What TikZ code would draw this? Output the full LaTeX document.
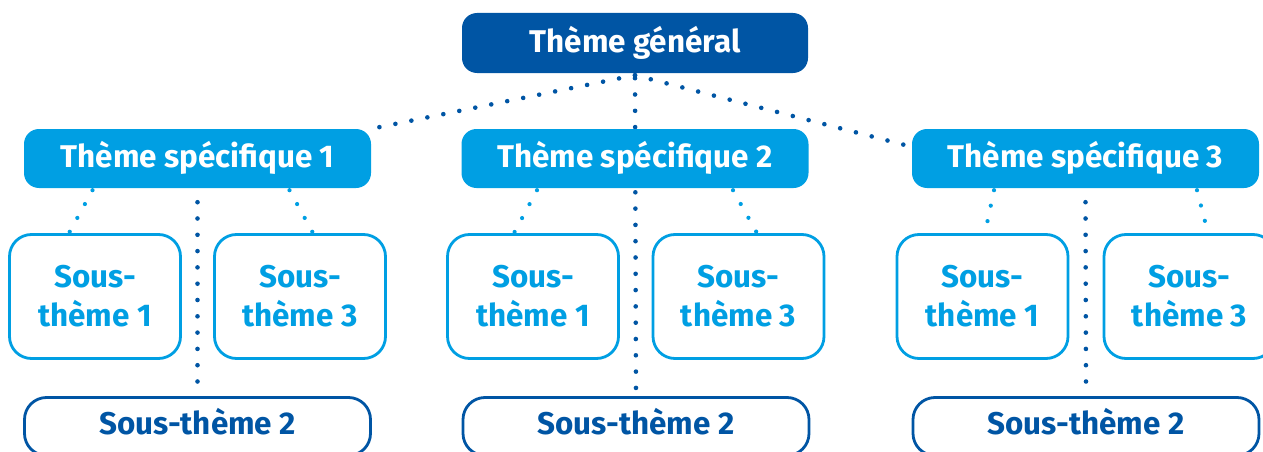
\documentclass[tikz,border=0pt]{standalone}
\usepackage{fontspec}
\setmainfont{Fira Sans}
\usetikzlibrary{calc,backgrounds}
\definecolor{darkblue}{HTML}{0055A4}
\definecolor{lightblue}{HTML}{009FE3}
\tikzset{
  x=1pt, y=-1pt,
  txt/.style={font=\bfseries\fontsize{31.4}{39}\selectfont, inner sep=0pt, align=center,
    text height=21.7pt},
  genbox/.style={txt, fill=darkblue, text=white, rounded corners=15pt,
    minimum width=346pt, minimum height=60pt, text depth=3pt},
  specbox/.style={txt, fill=lightblue, text=white, rounded corners=15pt,
    minimum width=347pt, minimum height=59pt, text depth=3pt},
  subbox/.style={txt, draw=lightblue, line width=2.8pt, fill=white, text=lightblue,
    rounded corners=22pt, minimum width=171pt, minimum height=124pt,
    text height=60.7pt, text depth=0pt},
  widebox/.style={txt, draw=darkblue, line width=2.8pt, fill=white, text=darkblue,
    rounded corners=22pt, minimum width=346pt, minimum height=58pt, text depth=5pt},
  darkdots/.style={draw=darkblue, line width=4.6pt, line cap=round,
    dash pattern=on 0pt off 16.3pt},
  lightdots/.style={draw=lightblue, line width=4.2pt, line cap=round,
    dash pattern=on 0pt off 15.8pt},
}
\begin{document}
\begin{tikzpicture}
\useasboundingbox (0,0) rectangle (1263,452);
\clip (0,0) rectangle (1263,452);

% top level
\node[genbox] (gen) at (635,43) {Thème général};

% specific themes
\node[specbox] (s1) at (197.5,158.5) {Thème spécifique 1};
\node[specbox] (s2) at (635,158.5) {Thème spécifique 2};
\node[specbox] (s3) at (1085.5,158.5) {Thème spécifique 3};

% sub-themes, group 1
\node[subbox] (a1) at (95,296.5) {Sous-\\thème 1};
\node[subbox] (c1) at (300,296.5) {Sous-\\thème 3};
\node[widebox] (b1) at (197.5,426.5) {Sous-thème 2};

% sub-themes, group 2
\node[subbox] (a2) at (533,296.5) {Sous-\\thème 1};
\node[subbox] (c2) at (738.5,296.5) {Sous-\\thème 3};
\node[widebox] (b2) at (636,426.5) {Sous-thème 2};

% sub-themes, group 3
\node[subbox] (a3) at (982.5,296.5) {Sous-\\thème 1};
\node[subbox] (c3) at (1189.5,296.5) {Sous-\\thème 3};
\node[widebox] (b3) at (1086,426.5) {Sous-thème 2};

\begin{scope}[on background layer]
  % links from the general theme
  \draw[darkdots] ($(gen.south)+(0,2)$) -- (s1.north east);
  \draw[darkdots] ($(gen.south)+(0,2)$) -- ($(s3.north west)+(0,18)$);
  \draw[darkdots] ($(gen.south)+(0,5)$) -- (b2.north);

  % central links to sub-theme 2
  \draw[darkdots] ($(s1.south)+(0,14)$) -- ($(b1.north)+(0,-8)$);
  \draw[darkdots] ($(s3.south)+(0,14)$) -- ($(b3.north)+(0,-8)$);

  % side links to sub-themes 1 and 3
  \draw[lightdots] ($(s1.south)+(-105,2)$) -- ($(a1.north)+(-26,0)$);
  \draw[lightdots] ($(s1.south)+(92,2)$) -- ($(c1.north)+(13,0)$);
  \draw[lightdots] ($(s2.south)+(-98,2)$) -- ($(a2.north)+(-19,0)$);
  \draw[lightdots] ($(s2.south)+(98,2)$) -- ($(c2.north)+(18.5,0)$);
  \draw[lightdots] ($(s3.south)+(-91.5,2)$) -- ($(a3.north)+(2.5,0)$);
  \draw[lightdots] ($(s3.south)+(111.5,2)$) -- ($(c3.north)+(18.5,0)$);
\end{scope}
\end{tikzpicture}
\end{document}
